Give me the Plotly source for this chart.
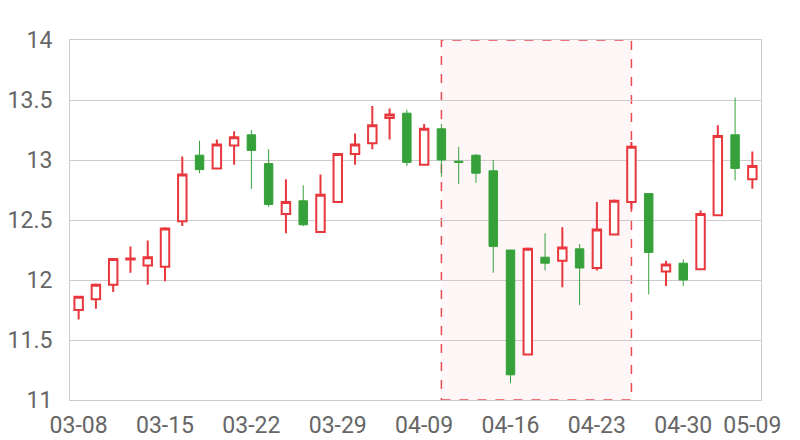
import plotly.graph_objects as go

dates = ["03-08", "03-09", "03-10", "03-11", "03-12",
         "03-15", "03-16", "03-17", "03-18", "03-19",
         "03-22", "03-23", "03-24", "03-25", "03-26",
         "03-29", "03-30", "03-31", "04-01", "04-02",
         "04-09", "04-12", "04-13", "04-14", "04-15",
         "04-16", "04-19", "04-20", "04-21", "04-22",
         "04-23", "04-26", "04-27", "04-28", "04-29",
         "04-30", "05-04", "05-06", "05-07", "05-09"]

open_ = [11.75, 11.84, 11.96, 12.17, 12.12, 12.11, 12.49, 13.04, 12.93, 13.12,
         13.21, 12.97, 12.55, 12.66, 12.40, 12.65, 13.05, 13.14, 13.35, 13.39,
         12.96, 13.26, 12.99, 13.04, 12.91, 12.25, 11.38, 12.19, 12.16, 12.26,
         12.10, 12.38, 12.65, 12.72, 12.07, 12.14, 12.09, 12.54, 13.21, 12.84]
close = [11.86, 11.96, 12.175, 12.18, 12.19, 12.43, 12.88, 12.92, 13.13, 13.19,
         13.08, 12.63, 12.65, 12.46, 12.71, 13.05, 13.13, 13.29, 13.38, 12.98,
         13.26, 13.00, 12.98, 12.89, 12.28, 11.21, 12.26, 12.14, 12.27, 12.10,
         12.42, 12.66, 13.11, 12.23, 12.13, 12.00, 12.55, 13.20, 12.93, 12.95]
high = [11.86, 11.97, 12.18, 12.28, 12.33, 12.44, 13.03, 13.16, 13.17, 13.24,
        13.25, 13.09, 12.84, 12.79, 12.88, 13.05, 13.22, 13.45, 13.43, 13.42,
        13.30, 13.30, 13.11, 13.05, 13.00, 12.25, 12.27, 12.39, 12.44, 12.30,
        12.65, 12.67, 13.15, 12.72, 12.16, 12.17, 12.58, 13.29, 13.52, 13.07]
low = [11.67, 11.76, 11.90, 12.06, 11.96, 11.99, 12.45, 12.89, 12.92, 12.96,
       12.76, 12.61, 12.39, 12.45, 12.40, 12.65, 12.96, 13.09, 13.17, 12.95,
       12.96, 12.86, 12.80, 12.81, 12.06, 11.14, 11.38, 12.08, 11.94, 11.79,
       12.08, 12.38, 12.59, 11.88, 11.95, 11.95, 12.09, 12.54, 12.83, 12.76]

tick_idx = [0, 5, 10, 15, 20, 25, 30, 35, 39]
area_idx = (21, 32)

RED = "#e8383d"
GREEN = "#36a13a"

fig = go.Figure()
fig.add_trace(go.Candlestick(
    x=dates, open=open_, high=high, low=low, close=close,
    increasing=dict(line=dict(color=RED, width=2), fillcolor="rgba(255,255,255,1)"),
    decreasing=dict(line=dict(color=GREEN, width=1), fillcolor=GREEN),
    whiskerwidth=0, showlegend=False, hoverinfo="x+y",
))

fig.add_shape(type="rect", xref="x", yref="y",
              x0=area_idx[0], x1=area_idx[1], y0=11, y1=14,
              fillcolor="rgba(255,232,232,0.35)",
              line=dict(color="#ea4a50", width=1.5, dash="dash"), layer="below")

# page body has an 8px default margin, so the figure is offset by 8px
fig.update_layout(
    width=792, height=432,
    margin=dict(l=62, r=39, t=32, b=40),
    paper_bgcolor="white", plot_bgcolor="white",
    font=dict(family="Roboto, sans-serif", size=23, color="#666666"),
    xaxis=dict(type="category", rangeslider=dict(visible=False),
               tickmode="array", tickvals=[dates[i] for i in tick_idx],
               ticktext=[dates[i] for i in tick_idx], tickangle=0,
               showgrid=False, showline=True, linecolor="#cccccc", mirror=True,
               ticks="", range=[-0.5, len(dates) - 0.5], automargin=False,
               ticklabelstandoff=4),
    yaxis=dict(range=[11, 14], tickvals=[11, 11.5, 12, 12.5, 13, 13.5, 14],
               ticktext=["11", "11.5", "12", "12.5", "13", "13.5", "14"],
               showgrid=True, gridcolor="#cccccc", gridwidth=1,
               showline=True, linecolor="#cccccc", mirror=True,
               zeroline=False, ticks="", ticklabelstandoff=12, automargin=False),
)

fig.write_html("out.html")
